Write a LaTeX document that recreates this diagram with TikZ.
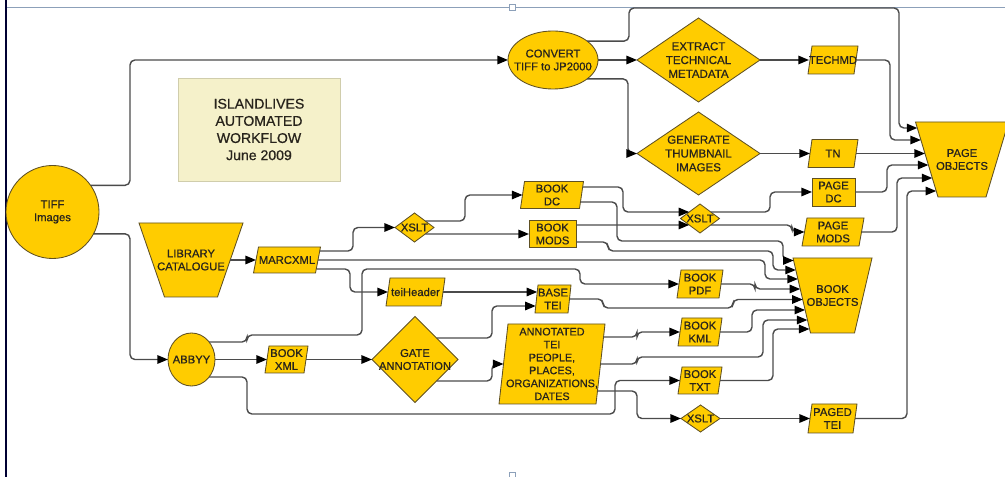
\documentclass[tikz,border=0pt]{standalone}
\usepackage{fontspec}
\setmainfont{Liberation Sans}[FakeBold=0.7]
\usetikzlibrary{shapes.geometric,arrows.meta,calc}
\definecolor{nodef}{RGB}{255,204,0}
\definecolor{edgec}{RGB}{95,80,35}
\definecolor{linec}{RGB}{75,75,75}
\definecolor{txtc}{RGB}{40,36,28}
\definecolor{titlef}{RGB}{245,241,202}
\definecolor{framec}{RGB}{140,160,185}
\newcommand{\pxu}{0.025cm}
% parallelogram: [label options], name, x, y, total width, height, slant offset, text
\newcommand{\paranode}[8][]{%
  \filldraw[shpd] ($(#3,#4)+(-#5/2,#6/2)$) -- ($(#3,#4)+(#5/2-#7,#6/2)$) -- ($(#3,#4)+(#5/2,-#6/2)$) -- ($(#3,#4)+(-#5/2+#7,-#6/2)$) -- cycle;
  \node[lbl,#1,minimum width={(#5-#7)*\pxu},minimum height={#6*\pxu}] (#2) at (#3,#4) {#8};}
% inverted trapezoid: name, x, y, top width, bottom width, height, text
\newcommand{\trapnode}[7]{%
  \filldraw[shpd] ($(#2,#3)+(-#4/2,-#6/2)$) -- ($(#2,#3)+(#4/2,-#6/2)$) -- ($(#2,#3)+(#5/2,#6/2)$) -- ($(#2,#3)+(-#5/2,#6/2)$) -- cycle;
  \node[lbl,minimum width={(#4+#5)/2*\pxu},minimum height={#6*\pxu}] (#1) at (#2,#3) {#7};}
\begin{document}
\begin{tikzpicture}[x=0.025cm,y=-0.025cm,
  shpd/.style={draw=edgec,fill=nodef,line width=0.6pt},
  shp/.style={draw=edgec,fill=nodef,line width=0.6pt,inner sep=0pt,outer sep=0pt},
  lbl/.style={font=\fontsize{8}{9.2}\selectfont,text=txtc,align=center,inner sep=0pt,outer sep=0pt},
  dia/.style 2 args={shp,shape=diamond,minimum width=#1*\pxu,minimum height=#2*\pxu},
  box/.style 2 args={shp,shape=rectangle,minimum width=#1*\pxu,minimum height=#2*\pxu},
  ell/.style 2 args={shp,shape=ellipse,minimum width=#1*\pxu,minimum height=#2*\pxu},
  conn/.style={draw=linec,line width=1pt,rounded corners=3.5pt,-{Triangle[length=7.5pt,width=6pt,color=black]}}
]
\useasboundingbox (0,0) rectangle (1005,477);
% frame of the screenshot
\draw[framec,line width=0.6pt] (6,7) -- (1005,7);
\draw[black!80!blue,line width=1.3pt] (6,0) -- (6,477);
\draw[framec,fill=white,line width=0.5pt] (509,4) rectangle (515,10);
\draw[framec,fill=white,line width=0.5pt] (509,472) rectangle (515,478);

% nodes
\node[ell={93}{93},label={[lbl]center:{TIFF\\Images}}] (tiff) at (52.5,212) {};
\node[fill=titlef,draw=titlef!85!black,line width=0.3pt,minimum width=162*\pxu,minimum height=103*\pxu,inner sep=0pt,
  label={[lbl,font=\fontsize{10}{12.2}\selectfont]center:{ISLANDLIVES\\AUTOMATED\\WORKFLOW\\June 2009}}] (title) at (259,129.5) {};
\node[ell={90}{58},label={[lbl]center:{CONVERT\\TIFF to JP2000}}] (conv) at (553,60) {};
\node[dia={123}{84},label={[lbl,font=\fontsize{8.2}{9.8}\selectfont]center:{EXTRACT\\TECHNICAL\\METADATA}}] (extr) at (698.5,60) {};
\node[dia={123}{83},label={[lbl,font=\fontsize{8.2}{9.8}\selectfont]center:{GENERATE\\THUMBNAIL\\IMAGES}}] (gen) at (698.5,153.5) {};
\paranode{techmd}{833}{60}{50}{28}{4}{TECHMD}
\paranode{tn}{833}{153.5}{50}{28}{4}{TN}
\node[box={43}{28},label={[lbl]center:{PAGE\\DC}}] (pagedc) at (833.5,192) {};
\paranode{pagemods}{833}{232}{62}{28}{5}{PAGE\\MODS}
\paranode{pagedtei}{832.5}{418.5}{49}{29}{4}{PAGED\\TEI}
\trapnode{pageobj}{962}{159.5}{93}{48}{75}{PAGE\\OBJECTS}
\trapnode{bookobj}{832.5}{295.5}{79}{44}{75}{BOOK\\OBJECTS}
\node[dia={39}{29},label={[lbl]center:{XSLT}}] (xslt1) at (700,218.5) {};
\paranode{bookdc}{552}{195}{63}{27}{4}{BOOK\\DC}
\node[box={47}{27},label={[lbl]center:{BOOK\\MODS}}] (bookmods) at (552.5,234) {};
\node[dia={39}{29},label={[lbl]center:{XSLT}}] (xslt2) at (414.5,227.5) {};
\trapnode{lib}{191}{260}{104}{53}{74}{LIBRARY\\CATALOGUE}
\paranode{marc}{287}{260}{67}{26}{5}{MARCXML}
\paranode{teih}{415.5}{292}{59}{28}{4}{teiHeader}
\paranode{basetei}{553}{299}{36}{28}{3}{BASE\\TEI}
\paranode{bookpdf}{700}{284}{46}{28}{4}{BOOK\\PDF}
\paranode{bookkml}{700}{332}{44}{28}{4}{BOOK\\KML}
\paranode{booktxt}{700}{380.5}{44}{27}{4}{BOOK\\TXT}
\node[dia={39}{27},label={[lbl]center:{XSLT}}] (xslt3) at (700.5,418.5) {};
\node[ell={47}{53},label={[lbl]center:{ABBYY}}] (abbyy) at (191.5,359.5) {};
\paranode{bookxml}{286.5}{359.5}{43}{27}{4}{BOOK\\XML}
\node[dia={86}{86},label={[lbl]center:{GATE\\ANNOTATION}}] (gate) at (415,359.5) {};
\paranode[font=\fontsize{7.7}{9.2}\selectfont]{annot}{552}{364}{106}{80}{9}{ANNOTATED\\TEI\\PEOPLE,\\PLACES,\\ORGANIZATIONS,\\DATES}

% entry points on slanted borders
\coordinate (po1) at ($(pageobj)+(-44.7,-31.5)$);
\coordinate (po2) at ($(pageobj)+(-41.1,-19.5)$);
\coordinate (po3) at ($(pageobj)+(-37,-6)$);
\coordinate (po4) at ($(pageobj)+(-33.6,5.5)$);
\coordinate (po5) at ($(pageobj)+(-29.7,18.5)$);
\coordinate (po6) at ($(pageobj)+(-25.8,31.5)$);
\coordinate (bo1) at ($(bookobj)+(-38.9,-35)$);
\coordinate (bo2) at ($(bookobj)+(-36.7,-25.5)$);
\coordinate (bo3) at ($(bookobj)+(-34.6,-16.5)$);
\coordinate (bo4) at ($(bookobj)+(-32.3,-6.5)$);
\coordinate (bo5) at ($(bookobj)+(-29.8,4)$);
\coordinate (bo6) at ($(bookobj)+(-27.4,14.5)$);
\coordinate (bo7) at ($(bookobj)+(-25.1,24.5)$);
\coordinate (bo8) at ($(bookobj)+(-23,33.5)$);

% connectors
\draw[conn] (tiff.35) -| (130,60) -- (conv);
\draw[conn] (tiff.-28) -| (130,359.5) -- (abbyy);
\draw[conn] (conv) -- (extr);
\draw[conn] (conv.-29) -| (628,153.5) -- (gen);
\draw[conn] (conv.29) -| (629,8) -| (899,128) -- (po1);
\draw[conn] (extr) -- (techmd);
\draw[conn] (techmd.east) -| (890,140) -- (po2);
\draw[conn] (gen) -- (tn);
\draw[conn] (tn.east) -- (po3);
\draw[conn] (pagedc.east) -| (887,165) -- (po4);
\draw[conn] (pagemods.east) -| (897,178) -- (po5);
\draw[conn] (pagedtei.east) -| (907,191) -- (po6);
\draw[conn] ($(xslt1)+(10.8,-6.5)$) -| (770,192) -- (pagedc);
\draw[conn] ($(xslt1)+(10.8,6.5)$) -| (792,232) -- (pagemods);
\draw[conn] ($(bookdc)+(30.7,-8)$) -| (623,212) -- ($(xslt1)+(-10.8,-6.5)$);
\draw[conn] ($(bookdc)+(28.5,7)$) -| (617,241) -| (783,260.5) -- (bo1);
\draw[conn] ($(bookmods)+(23.5,-9)$) -- ($(xslt1)+(-10.8,6.5)$);
\draw[conn] ($(bookmods)+(23.5,8)$) -| (608,251) -| (773,270) -- (bo2);
\draw[conn] ($(xslt2)+(10.8,-6.5)$) -| (465,195) -- (bookdc);
\draw[conn] ($(xslt2)+(10.8,6.5)$) -- (bookmods);
\draw[conn] (lib) -- (marc);
\draw[conn] ($(marc)+(32.7,-9)$) -| (353,227.5) -- (xslt2);
\draw[conn] (marc.east) -| (765,279) -- (bo3);
\draw[conn] ($(marc)+(29.5,9)$) -| (350,292) -- (teih);
\draw[conn] (teih.east) -- ($(basetei)+(-15.75,-7)$);
\draw[conn] ($(gate)+(21.5,-21.5)$) -| (492,306) -- ($(basetei)+(-17.25,7)$);
\draw[conn] (basetei.east) -| (603,308) -| (733,299.5) -- (bo5);
\draw[conn] ($(abbyy)+(17.6,-17.5)$) -| (247,335) -| (362,269) -| (580,284) -- (bookpdf);
\draw[conn] (bookpdf.east) -| (755,289) -- (bo4);
\draw[conn] (abbyy) -- (bookxml);
\draw[conn] (bookxml) -- (gate);
\draw[conn] ($(gate)+(21.5,21.5)$) -| (492,364) -- (annot);
\draw[conn] ($(abbyy)+(17.6,17.5)$) -| (247,414) -| (615,380.5) -- (booktxt);
\draw[conn] ($(annot)+(51.5,-27)$) -| (637,332) -- (bookkml);
\draw[conn] (bookkml.east) -| (752,310) -- (bo6);
\draw[conn] (annot.east) -| (637,357) -| (763,320) -- (bo7);
\draw[conn] (booktxt.east) -| (773,329) -- (bo8);
\draw[conn] ($(annot)+(45.5,27)$) -| (637,418.5) -- (xslt3);
\draw[conn] (xslt3) -- (pagedtei);
\end{tikzpicture}
\end{document}
